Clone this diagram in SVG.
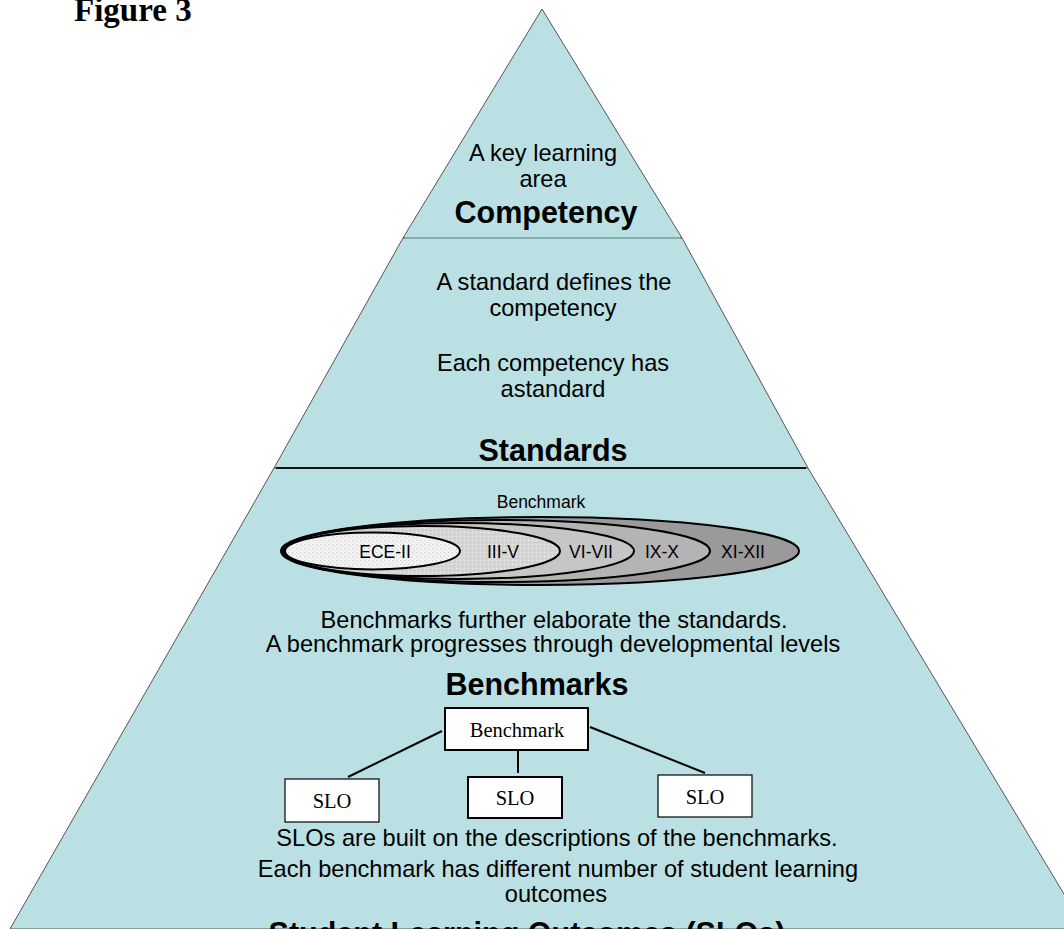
<svg xmlns="http://www.w3.org/2000/svg" width="1064" height="929" viewBox="0 0 1064 929">
<style>
.band{fill:#BBE0E3;stroke:#555;stroke-width:1}
.t{font-family:"Liberation Sans",Arial,sans-serif;font-size:23.6px;fill:#000;text-anchor:middle}
.h{font-family:"Liberation Sans",Arial,sans-serif;font-size:30.5px;font-weight:bold;fill:#000;text-anchor:middle}
.s{font-family:"Liberation Sans",Arial,sans-serif;font-size:17.5px;fill:#000;text-anchor:middle}
.tm{font-family:"Liberation Serif","Times New Roman",serif;font-size:20.5px;fill:#000;text-anchor:middle}
.ell{stroke:#000;stroke-width:2}
.box{fill:#fff;stroke:#000;stroke-width:1.2}
.conn{stroke:#000;stroke-width:2;fill:none}
</style>
<defs>
<pattern id="dots" width="4" height="4" patternUnits="userSpaceOnUse">
<rect width="4" height="4" fill="#f2f2f2"/>
<rect x="0" y="0" width="1" height="1" fill="#c8c8c8"/>
<rect x="2" y="2" width="1" height="1" fill="#d8d8d8"/>
</pattern>
<pattern id="dots2" width="4" height="4" patternUnits="userSpaceOnUse">
<rect width="4" height="4" fill="#d6d6d6"/>
<rect x="0" y="0" width="1" height="1" fill="#eeeeee"/>
<rect x="2" y="2" width="1" height="1" fill="#c4c4c4"/>
</pattern>
</defs>
<rect width="1064" height="929" fill="#fff"/>
<text x="74" y="21" font-family="Liberation Serif,'Times New Roman',serif" font-size="33" font-weight="bold">Figure 3</text>

<g id="pyramid">
<polygon class="band" points="542,9 682,238 403,238"/>
<polygon class="band" points="403,238 682,238 808,468 274,468"/>
<polygon class="band" points="274,468 808,468 1085,929 10,929"/>
<line x1="405" y1="238" x2="680" y2="238" stroke="#8fb8bc" stroke-width="1.5"/>
<line x1="276" y1="468" x2="806" y2="468" stroke="#111" stroke-width="2"/>
</g>

<g id="competency">
<text class="t" x="543" y="161">A key learning</text>
<text class="t" x="543" y="187">area</text>
<text class="h" x="546" y="223">Competency</text>
</g>

<g id="standards">
<text class="t" x="554" y="290">A standard defines the</text>
<text class="t" x="553" y="316">competency</text>
<text class="t" x="553" y="371">Each competency has</text>
<text class="t" x="553" y="397">astandard</text>
<text class="h" x="553" y="461">Standards</text>
</g>

<g id="benchmark-levels">
<text class="s" x="541" y="508">Benchmark</text>
<ellipse class="ell" cx="540" cy="551" rx="259" ry="34" fill="#9a9a9a"/>
<ellipse class="ell" cx="496.5" cy="551" rx="213.5" ry="31" fill="#b4b4b4"/>
<ellipse class="ell" cx="458.5" cy="551" rx="175.5" ry="28" fill="#c6c6c6"/>
<ellipse class="ell" cx="422" cy="551" rx="138" ry="25" fill="url(#dots2)"/>
<ellipse class="ell" cx="372.5" cy="551" rx="87.5" ry="18.5" fill="url(#dots)"/>
<text class="s" x="385" y="558">ECE-II</text>
<text class="s" x="503" y="558">III-V</text>
<text class="s" x="591" y="558">VI-VII</text>
<text class="s" x="662" y="558">IX-X</text>
<text class="s" x="743" y="558">XI-XII</text>
</g>

<g id="benchmarks">
<text class="t" x="554" y="628">Benchmarks further elaborate the standards.</text>
<text class="t" x="553" y="652">A benchmark progresses through developmental levels</text>
<text class="h" x="537" y="695">Benchmarks</text>
</g>

<g id="connectors">
<line class="conn" x1="442" y1="731" x2="348" y2="777"/>
<line class="conn" x1="518" y1="750" x2="518" y2="773"/>
<line class="conn" x1="590" y1="727" x2="705" y2="773"/>
</g>

<g id="benchmark-box">
<rect x="445" y="708" width="143" height="42" fill="#fff" stroke="#000" stroke-width="2"/>
<text class="tm" x="517" y="737">Benchmark</text>
</g>
<g id="slo-1">
<rect class="box" x="285" y="779" width="94" height="43"/>
<text class="tm" x="332" y="808">SLO</text>
</g>
<g id="slo-2">
<rect x="468" y="777" width="94" height="41" fill="#fff" stroke="#000" stroke-width="2"/>
<text class="tm" x="515" y="805">SLO</text>
</g>
<g id="slo-3">
<rect class="box" x="658" y="775" width="94" height="42"/>
<text class="tm" x="705" y="804">SLO</text>
</g>

<g id="slos">
<text class="t" x="557" y="846">SLOs are built on the descriptions of the benchmarks.</text>
<text class="t" x="558" y="877">Each benchmark has different number of student learning</text>
<text class="t" x="556" y="902">outcomes</text>
<text class="h" x="527" y="944">Student Learning Outcomes (SLOs)</text>
</g>
</svg>
